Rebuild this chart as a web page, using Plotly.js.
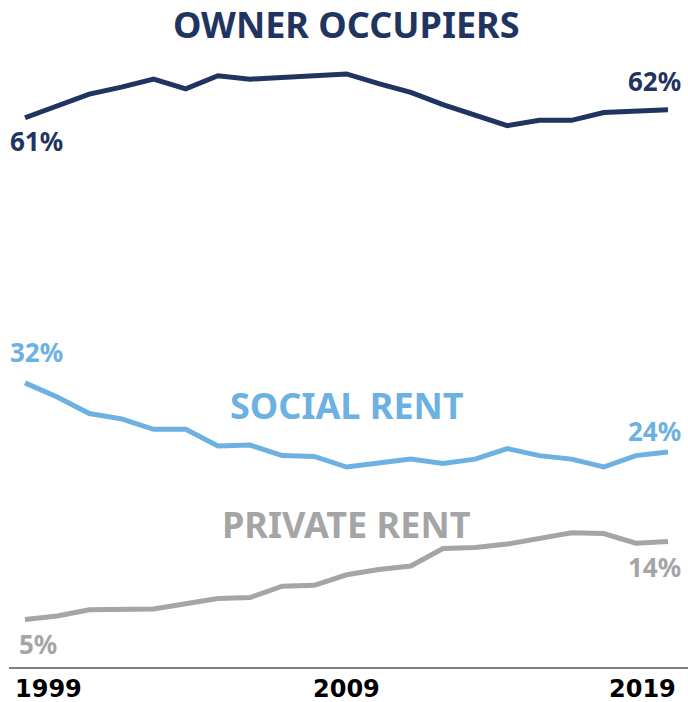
<!DOCTYPE html>
<html>
<head>
<meta charset="utf-8">
<script src="https://cdn.plot.ly/plotly-3.0.1.min.js"></script>
<style>html,body{margin:0;padding:0;background:#fff;}#chart{width:688px;height:702px;}</style>
</head>
<body>
<div id="chart"></div>
<script>
var years = [1999,2000,2001,2002,2003,2004,2005,2006,2007,2008,2009,2010,2011,2012,2013,2014,2015,2016,2017,2018,2019];
var ownerOccupiers = [61.0,62.4,63.7,64.5,65.4,64.3,65.8,65.4,65.6,65.9,66.0,64.9,63.9,62.5,61.3,60.1,60.7,60.7,61.6,61.7,61.9];
var socialRent = [32.0,30.4,28.5,27.9,26.7,26.7,24.8,24.9,23.7,23.6,22.4,22.9,23.3,22.8,23.3,24.5,23.7,23.3,22.4,23.7,24.1];
var privateRent = [5.0,5.4,6.1,6.1,6.2,6.8,7.4,7.5,8.8,8.9,10.1,10.7,11.1,13.1,13.2,13.6,14.3,14.9,14.8,13.7,13.9];
var seriesNames = ["OWNER OCCUPIERS","SOCIAL RENT","PRIVATE RENT"];
var tickYears = [1999,2009,2019];

var NAVY = "#1f3461", BLUE = "#6cb1e1", GREY = "#a5a5a5";
var labelFont = "Noto Sans, sans-serif";
var yr = [-0.43, 75.71];
var y2shift = 1.27;

function pct(v){ return Math.round(v) + "%"; }

var traces = [
  {x: years, y: ownerOccupiers, yaxis: "y2", type: "scatter", mode: "lines", line: {color: NAVY, width: 5}, hoverinfo: "skip"},
  {x: years, y: socialRent, type: "scatter", mode: "lines", line: {color: BLUE, width: 5}, hoverinfo: "skip"},
  {x: years, y: privateRent, type: "scatter", mode: "lines", line: {color: GREY, width: 5}, hoverinfo: "skip"}
];

var n = years.length - 1;
var ann = [];
function lab(x, y, yref, text, color, xanchor, xs, ys){
  ann.push({x: x, y: y, xref: "x", yref: yref, text: "<b>" + text + "</b>", showarrow: false,
    xanchor: xanchor, yanchor: "middle", xshift: xs, yshift: ys,
    font: {family: labelFont, size: 26, color: color}});
}
lab(years[0], ownerOccupiers[0], "y2", pct(ownerOccupiers[0]), NAVY, "left", -17, -23);
lab(years[n], ownerOccupiers[n], "y2", pct(ownerOccupiers[n]), NAVY, "right", 15, 29);
lab(years[0], socialRent[0], "y", pct(socialRent[0]), BLUE, "left", -17, 31);
lab(years[n], socialRent[n], "y", pct(socialRent[n]), BLUE, "right", 15, 21);
lab(years[0], privateRent[0], "y", pct(privateRent[0]), GREY, "left", -8, -25);
lab(years[n], privateRent[n], "y", pct(privateRent[n]), GREY, "right", 15, -26);

function title(text, color, yv){
  ann.push({x: 2009, y: yv, xref: "x", yref: "y", text: "<b>" + text + "</b>", showarrow: false,
    xanchor: "center", yanchor: "middle", font: {family: labelFont, size: 36, color: color}});
}
title(seriesNames[0], NAVY, 72.9);
title(seriesNames[1], BLUE, 29.4);
title(seriesNames[2], GREY, 15.8);

tickYears.forEach(function(t, i){
  var xa = i === 0 ? "left" : (i === tickYears.length - 1 ? "right" : "center");
  var xs = i === 0 ? -12 : (i === tickYears.length - 1 ? 10 : 0);
  ann.push({x: t, y: 0, xref: "x", yref: "paper", text: "<b>" + t + "</b>", showarrow: false,
    xanchor: xa, yanchor: "middle", xshift: xs, yshift: -22,
    font: {family: "DejaVu Sans, sans-serif", size: 24, color: "#000"}});
});

var layout = {
  width: 688, height: 702,
  margin: {l: 9, r: 0, t: 0, b: 35, pad: 0},
  paper_bgcolor: "#fff", plot_bgcolor: "#fff",
  showlegend: false,
  xaxis: {range: [1998.502, 2019.622], showgrid: false, zeroline: false, showticklabels: false, ticks: "",
          showline: true, linecolor: "#7f7f7f", linewidth: 1.5, fixedrange: true},
  yaxis: {range: yr, showgrid: false, zeroline: false, showticklabels: false, ticks: "", showline: false, fixedrange: true},
  yaxis2: {range: [yr[0] - y2shift, yr[1] - y2shift], overlaying: "y", showgrid: false, zeroline: false,
           showticklabels: false, ticks: "", showline: false, fixedrange: true},
  annotations: ann
};

Plotly.newPlot("chart", traces, layout, {displayModeBar: false, staticPlot: true});
</script>
</body>
</html>
